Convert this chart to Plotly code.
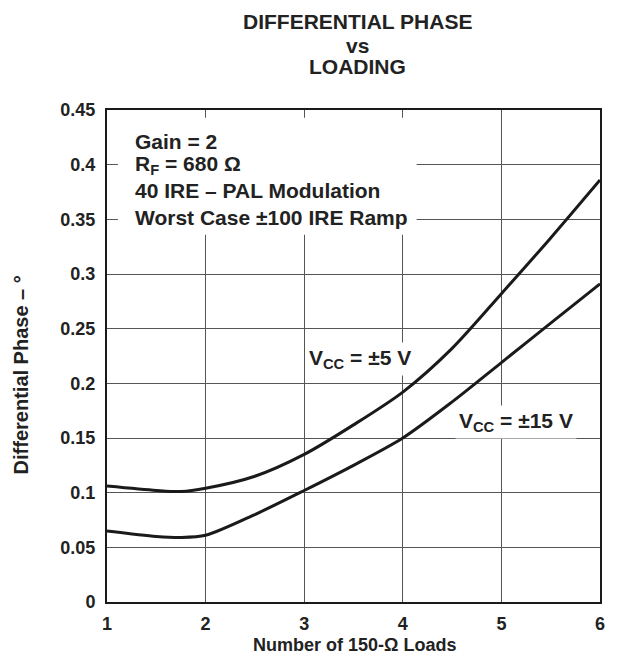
import plotly.graph_objects as go

FONT = "Liberation Sans, Arial, sans-serif"
INK = "#222222"

# number of 150-ohm loads
loads = [1, 1.5, 1.75, 2, 2.5, 3, 3.5, 4, 4.5, 5, 5.5, 6]
# differential phase (deg)
phase_5v = [0.106, 0.102, 0.101, 0.104, 0.115, 0.135, 0.162, 0.192, 0.232, 0.282, 0.333, 0.386]
phase_15v = [0.065, 0.060, 0.059, 0.061, 0.080, 0.102, 0.125, 0.150, 0.183, 0.219, 0.255, 0.291]

x_ticks = [1, 2, 3, 4, 5, 6]
y_ticks = [0, 0.05, 0.1, 0.15, 0.2, 0.25, 0.3, 0.35, 0.4, 0.45]
y_labels = ["0", "0.05", "0.1", "0.15", "0.2", "0.25", "0.3", "0.35", "0.4", "0.45"]

title_lines = ["DIFFERENTIAL PHASE", "vs", "LOADING"]
notes = ["Gain = 2", "R<sub>F</sub> = 680 Ω", "40 IRE – PAL Modulation",
         "Worst Case ±100 IRE Ramp"]
note_y = [0.4216, 0.3996, 0.3767, 0.352]


def bold(size):
    return dict(family=FONT, size=size, color=INK, weight="bold")


fig = go.Figure()

for ys in (phase_5v, phase_15v):
    fig.add_trace(go.Scatter(
        x=loads, y=ys, mode="lines",
        line=dict(color="#1a1a1a", width=3, shape="spline", smoothing=0.8),
        showlegend=False, hoverinfo="skip",
    ))

# white box behind the condition notes (hides the grid like the datasheet)
fig.add_shape(type="rect", x0=1.11, x1=4.14, y0=0.336, y1=0.443,
              fillcolor="white", line_width=0, layer="between")

for t, y in zip(notes, note_y):
    fig.add_annotation(x=1.262, y=y, text=t, showarrow=False, xanchor="left",
                       font=bold(21))

fig.add_annotation(x=3.57, y=0.222, text="V<sub>CC</sub> = ±5 V", showarrow=False,
                   bgcolor="white", borderpad=3, font=bold(21))
fig.add_annotation(x=5.15, y=0.165, text="V<sub>CC</sub> = ±15 V", showarrow=False,
                   bgcolor="white", borderpad=3, font=bold(21))

for t, py in zip(title_lines, [1.179, 1.132, 1.088]):
    fig.add_annotation(xref="paper", yref="paper", x=0.508, y=py, yanchor="middle",
                       text=t, showarrow=False, font=bold(21))

# axis titles placed by hand, as in the original
fig.add_annotation(xref="paper", yref="paper", x=-0.174, y=0.461, textangle=-90,
                   xanchor="center", yanchor="middle",
                   text="Differential Phase – °", showarrow=False, font=bold(20))
fig.add_annotation(xref="paper", yref="paper", x=0.502, y=-0.088,
                   xanchor="center", yanchor="middle",
                   text="Number of 150-Ω Loads", showarrow=False, font=bold(18))

fig.update_layout(
    width=614, height=658,
    margin=dict(l=99, r=22, t=102, b=64),
    paper_bgcolor="white", plot_bgcolor="white",
    xaxis=dict(range=[1, 6], tickvals=x_ticks, ticktext=[str(v) for v in x_ticks],
               showgrid=True, gridcolor="#555", gridwidth=1, zeroline=False,
               showline=True, linecolor="#1a1a1a", linewidth=2, mirror=True,
               ticks="", ticklabelstandoff=4, tickfont=bold(18), automargin=False),
    yaxis=dict(range=[0, 0.45], tickvals=y_ticks, ticktext=y_labels,
               showgrid=True, gridcolor="#555", gridwidth=1, zeroline=False,
               showline=True, linecolor="#1a1a1a", linewidth=2, mirror=True,
               ticks="", ticklabelstandoff=6, tickfont=bold(18), automargin=False),
)

fig.write_html("out.html")
